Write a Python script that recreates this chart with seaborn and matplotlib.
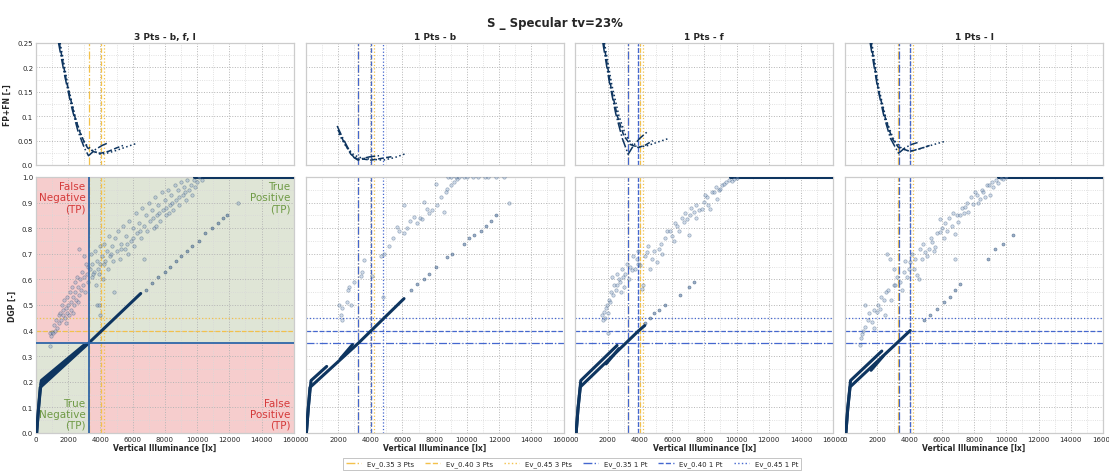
import numpy as np
import pandas as pd
import matplotlib.pyplot as plt
import seaborn as sns
from matplotlib.lines import Line2D
from matplotlib.ticker import MultipleLocator, FuncFormatter

PANEL_TITLES = ["3 Pts - b, f, l", "1 Pts - b", "1 Pts - f", "1 Pts - l"]
DGP_LEVELS = [0.35, 0.40, 0.45]
EV_3PTS = [3260, 4020, 4220]
EV_1PT_B = [3245, 4060, 4820]
EV_1PT_F = [3270, 3890, 3890]
EV_1PT_L = [3310, 4010, 4010]

# FP+FN curves (one per DGP level) for each panel
FPFN_EV_1 = [[1400, 1800, 2200, 2600, 3000, 3260, 3700, 4100, 4450],
             [1450, 1900, 2400, 2800, 3200, 3600, 4000, 4500, 5000, 5400],
             [1500, 2000, 2500, 3000, 3500, 4000, 4500, 5000, 5600, 6300]]
FPFN_1 = [[0.25, 0.18, 0.12, 0.07, 0.035, 0.019, 0.032, 0.04, 0.045],
          [0.25, 0.17, 0.10, 0.06, 0.035, 0.027, 0.024, 0.028, 0.035, 0.04],
          [0.25, 0.16, 0.09, 0.045, 0.03, 0.022, 0.025, 0.03, 0.037, 0.045]]
FPFN_EV_2 = [[1950, 2300, 2700, 3000, 3245, 3600, 4000, 4550],
             [2000, 2400, 2800, 3200, 3600, 4060, 4600, 5320],
             [2050, 2500, 3000, 3500, 4000, 4820, 5500, 6270]]
FPFN_2 = [[0.080, 0.055, 0.030, 0.015, 0.010, 0.014, 0.017, 0.019],
          [0.072, 0.045, 0.022, 0.012, 0.012, 0.010, 0.013, 0.017],
          [0.064, 0.038, 0.020, 0.014, 0.012, 0.010, 0.015, 0.024]]
FPFN_EV_3 = [[1700, 2100, 2500, 2900, 3270, 3600, 4000, 4490],
             [1750, 2200, 2600, 3000, 3400, 3890, 4300, 4800],
             [1800, 2250, 2700, 3100, 3500, 3890, 4500, 5200, 5840]]
FPFN_3 = [[0.25, 0.17, 0.105, 0.055, 0.022, 0.04, 0.055, 0.069],
          [0.25, 0.16, 0.10, 0.06, 0.042, 0.036, 0.04, 0.05],
          [0.25, 0.165, 0.10, 0.062, 0.043, 0.036, 0.04, 0.048, 0.055]]
FPFN_EV_4 = [[1550, 2000, 2400, 2800, 3310, 3700, 4100, 4490],
             [1600, 2050, 2500, 2900, 3300, 4010, 4500, 5240],
             [1650, 2100, 2550, 3000, 3500, 4010, 4700, 5500, 6250]]
FPFN_4 = [[0.25, 0.16, 0.10, 0.055, 0.024, 0.035, 0.042, 0.046],
          [0.25, 0.155, 0.095, 0.055, 0.036, 0.028, 0.032, 0.04],
          [0.25, 0.155, 0.092, 0.052, 0.034, 0.028, 0.034, 0.042, 0.049]]

# dense simplified-DGP strands (lower plots)
MAIN_EV_1, MAIN_DGP_1 = [40, 150, 260, 3250, 6500], [0.0, 0.09, 0.178, 0.35, 0.545]
UPPER_EV_1, UPPER_DGP_1 = [40, 160, 330, 2950], [0.0, 0.10, 0.205, 0.342]
MID_EV_1, MID_DGP_1 = [300, 3100], [0.19, 0.345]
MAIN_EV_2, MAIN_DGP_2 = [40, 150, 260, 3250, 6100], [0.0, 0.09, 0.178, 0.35, 0.525]
UPPER_EV_2, UPPER_DGP_2 = [40, 160, 330, 1300], [0.0, 0.10, 0.205, 0.26]
MID_EV_2, MID_DGP_2 = [2150, 2900], [0.29, 0.345]
MAIN_EV_3, MAIN_DGP_3 = [40, 150, 300, 3930, 4300], [0.0, 0.09, 0.18, 0.40, 0.42]
UPPER_EV_3, UPPER_DGP_3 = [40, 160, 330, 2580], [0.0, 0.10, 0.205, 0.342]
MID_EV_3, MID_DGP_3 = [1900, 2700], [0.27, 0.33]
MAIN_EV_4, MAIN_DGP_4 = [40, 150, 300, 4030], [0.0, 0.09, 0.18, 0.40]
UPPER_EV_4, UPPER_DGP_4 = [40, 160, 330, 2270], [0.0, 0.10, 0.205, 0.32]
MID_EV_4, MID_DGP_4 = [1600, 2350], [0.245, 0.30]
TOP_EV_1 = [9800, 16000]
TOP_EV_3 = [9600, 16000]
TOP_EV_4 = [9500, 16000]
TOP_DGP = [1.0, 1.0]

# scattered points
CLOUD_EV_1 = [870, 900, 950, 1000, 1050, 1100, 1200, 1250, 1300, 1400, 1450, 1500, 1550, 1600, 1650,
              1700, 1750, 1800, 1850, 1900, 1950, 2000, 2050, 2100, 2150, 2200, 2250, 2300, 2350, 2400,
              2450, 2500, 2550, 2600, 2650, 2700, 2750, 2800, 2850, 2900, 2950, 3000, 3050, 3100, 3150,
              3250, 3350, 3400, 3450, 3500, 3600, 3650, 3700, 3780, 3800, 3900, 3950, 4000, 4100, 4150,
              4200, 4300, 4400, 4500, 4550, 4600, 4700, 4800, 4850, 4900, 5000, 5100, 5200, 5300, 5400,
              5500, 5600, 5700, 5800, 5900, 6000, 6100, 6200, 6300, 6400, 6500, 6600, 6700, 6800, 6900,
              7000, 7100, 7200, 7300, 7400, 7500, 7600, 7700, 7800, 7900, 8000, 8100, 8200, 8300, 8400,
              8500, 8600, 8700, 8800, 8900, 9000, 9100, 9200, 9300, 9400, 9500, 9600, 9700, 9800, 9900,
              10000, 10100, 10300, 6680, 12550, 7250, 7650, 8050, 8450, 8850, 9250, 7450, 8250, 6450, 6050,
              5650, 5250, 4650, 4250, 3850, 3550, 3200, 2300, 2600, 1850, 3880, 3980]
CLOUD_DGP_1 = [0.34, 0.39, 0.38, 0.395, 0.39, 0.42, 0.40, 0.44, 0.41, 0.46, 0.43, 0.47, 0.44, 0.50, 0.46,
               0.48, 0.52, 0.45, 0.49, 0.47, 0.53, 0.50, 0.46, 0.55, 0.51, 0.48, 0.57, 0.53, 0.50, 0.59,
               0.55, 0.52, 0.61, 0.57, 0.54, 0.72, 0.60, 0.56, 0.63, 0.58, 0.69, 0.61, 0.55, 0.66, 0.62,
               0.59, 0.64, 0.70, 0.61, 0.66, 0.63, 0.71, 0.58, 0.50, 0.67, 0.62, 0.73, 0.66, 0.69, 0.60,
               0.74, 0.67, 0.71, 0.64, 0.77, 0.69, 0.73, 0.67, 0.55, 0.76, 0.71, 0.79, 0.68, 0.74, 0.81,
               0.72, 0.77, 0.70, 0.83, 0.75, 0.80, 0.73, 0.86, 0.78, 0.82, 0.76, 0.88, 0.81, 0.85, 0.79,
               0.90, 0.83, 0.87, 0.80, 0.92, 0.85, 0.89, 0.83, 0.94, 0.87, 0.91, 0.85, 0.95, 0.89, 0.93,
               0.87, 0.97, 0.91, 0.95, 0.89, 0.98, 0.93, 0.96, 0.91, 0.99, 0.95, 0.97, 0.93, 0.99, 0.96,
               0.98, 1.0, 0.99, 0.68, 0.90, 0.84, 0.86, 0.88, 0.90, 0.92, 0.94, 0.81, 0.86, 0.79, 0.76,
               0.74, 0.72, 0.70, 0.66, 0.64, 0.62, 0.65, 0.47, 0.51, 0.43, 0.50, 0.46]
EXT_EV_1 = [6800, 7200, 7600, 8000, 8300, 8700, 9000, 9400, 9700, 10100, 10500, 10900, 11300, 11600, 11870]
EXT_DGP_1 = [0.56, 0.585, 0.61, 0.63, 0.65, 0.67, 0.69, 0.71, 0.73, 0.75, 0.78, 0.80, 0.82, 0.84, 0.853]

CLOUD_EV_2 = [2070, 2170, 2270, 2220, 2580, 2690, 2790, 3000, 2600, 3410, 3510, 3620, 4130, 4650, 4860,
              4810, 5170, 5440, 5680, 5800, 6100, 6100, 6300, 6500, 6710, 6920, 7100, 7230, 7330, 7540,
              7650, 7850, 8160, 8060, 8570, 8400, 8780, 8990, 9200, 9400, 8700, 12600,
              8800, 9000, 9300, 9500, 9800, 10000, 10400, 10700, 11100, 11300, 11800, 12300]
CLOUD_DGP_2 = [0.50, 0.46, 0.49, 0.44, 0.51, 0.57, 0.50, 0.59, 0.56, 0.615, 0.63, 0.675, 0.615, 0.69, 0.70,
               0.53, 0.73, 0.76, 0.805, 0.79, 0.78, 0.89, 0.80, 0.83, 0.844, 0.82, 0.84, 0.837, 0.902, 0.876,
               0.86, 0.87, 0.89, 0.974, 0.863, 0.92, 0.954, 0.967, 0.98, 0.993, 0.94, 0.90,
               1.0, 1.0, 1.0, 1.0, 1.0, 1.0, 1.0, 1.0, 1.0, 1.0, 1.0, 1.0]
EXT_EV_2 = [6510, 6920, 7330, 7640, 8100, 8780, 9090, 9810, 10120, 10430, 10850, 11160, 11470, 11780]
EXT_DGP_2 = [0.557, 0.583, 0.603, 0.622, 0.65, 0.687, 0.70, 0.74, 0.76, 0.772, 0.79, 0.81, 0.83, 0.85]

CLOUD_EV_3 = [1650, 1700, 1760, 1850, 1900, 1960, 2000, 2100, 2170, 2200, 2270, 2350, 2400, 2500, 2580,
              2600, 2700, 2790, 2850, 2890, 2950, 3000, 3100, 3200, 3300, 3400, 3510, 3600, 3720, 3820,
              3850, 3900, 4030, 4130, 4200, 4300, 4440, 4500, 4650, 4750, 4850, 5060, 5170, 5300, 5400,
              5580, 5700, 5890, 6000, 6100, 6200, 6300, 6450, 6600, 6710, 6800, 6920, 7020, 7100, 7200,
              7330, 7450, 7500, 7650, 7850, 7950, 8050, 8160, 8250, 8370, 8450, 8570, 8700, 8780, 8900,
              8990, 9100, 9200, 9350, 9500, 9700, 9810, 10000, 2000]
CLOUD_DGP_3 = [0.46, 0.44, 0.473, 0.45, 0.49, 0.50, 0.47, 0.52, 0.51, 0.55, 0.61, 0.54, 0.58, 0.56, 0.577,
               0.62, 0.60, 0.59, 0.55, 0.64, 0.61, 0.57, 0.62, 0.66, 0.60, 0.65, 0.635, 0.69, 0.64, 0.68,
               0.71, 0.66, 0.655, 0.564, 0.58, 0.69, 0.707, 0.73, 0.64, 0.68, 0.71, 0.668, 0.72, 0.74, 0.70,
               0.76, 0.79, 0.79, 0.77, 0.75, 0.82, 0.81, 0.79, 0.84, 0.824, 0.86, 0.837, 0.772, 0.85, 0.88,
               0.863, 0.84, 0.89, 0.87, 0.876, 0.902, 0.93, 0.92, 0.89, 0.876, 0.94, 0.94, 0.96, 0.915, 0.95,
               0.954, 0.97, 0.974, 0.98, 0.99, 0.985, 0.993, 0.995, 0.39]
EXT_EV_3 = [4300, 4600, 4900, 5200, 5580, 6510, 7020, 7330]
EXT_DGP_3 = [0.43, 0.45, 0.47, 0.48, 0.50, 0.54, 0.57, 0.59]

CLOUD_EV_4 = [930, 950, 1030, 1100, 1240, 1240, 1400, 1500, 1650, 1760, 1800, 1960, 2050, 2170, 2250,
              2380, 2480, 2500, 2580, 2650, 2790, 2850, 3000, 3050, 3100, 3200, 3410, 3500, 3620, 3700,
              3820, 3950, 4030, 4150, 4240, 4350, 4440, 4550, 4650, 4750, 4850, 4960, 5050, 5170, 5300,
              5370, 5480, 5580, 5700, 5890, 5890, 6000, 6100, 6200, 6300, 6450, 6610, 6700, 6820, 6820,
              6950, 7020, 7130, 7250, 7350, 7440, 7550, 7640, 7800, 7950, 8050, 8160, 8250, 8370, 8500,
              8570, 8700, 8780, 8900, 8990, 9100, 9200, 9350, 9500, 9650, 9810, 10000]
CLOUD_DGP_4 = [0.342, 0.37, 0.388, 0.40, 0.414, 0.50, 0.44, 0.47, 0.434, 0.41, 0.48, 0.473, 0.50, 0.486, 0.53,
               0.518, 0.46, 0.55, 0.70, 0.56, 0.68, 0.52, 0.64, 0.58, 0.577, 0.61, 0.59, 0.56, 0.63, 0.67,
               0.61, 0.64, 0.668, 0.70, 0.64, 0.68, 0.616, 0.603, 0.72, 0.68, 0.74, 0.707, 0.69, 0.72, 0.76,
               0.746, 0.71, 0.727, 0.78, 0.837, 0.785, 0.80, 0.76, 0.82, 0.79, 0.84, 0.81, 0.86, 0.778, 0.68,
               0.85, 0.824, 0.85, 0.88, 0.86, 0.883, 0.90, 0.863, 0.92, 0.896, 0.94, 0.928, 0.90, 0.915, 0.95,
               0.94, 0.92, 0.967, 0.97, 0.928, 0.98, 0.96, 0.99, 0.975, 0.995, 0.993, 1.0]
EXT_EV_4 = [4860, 5270, 5680, 6100, 6510, 6820, 7130, 8880, 9300, 9810, 10430]
EXT_DGP_4 = [0.44, 0.46, 0.486, 0.51, 0.53, 0.557, 0.583, 0.68, 0.72, 0.74, 0.772]

NAVY = "#0e3560"
YELLOW = "#f3c14b"
BLUE = "#4467cf"
QBLUE = "#2f66a8"
PINK = "#f6cdcd"
GREEN = "#dfe5d6"
RED_TXT = "#d43a3a"
GREEN_TXT = "#6f9a45"
STYLES = ["-.", "--", ":"]
LEG_LABELS_3 = ["Ev_0.35 3 Pts", "Ev_0.40 3 Pts", "Ev_0.45 3 Pts"]
LEG_LABELS_1 = ["Ev_0.35 1 Pt", "Ev_0.40 1 Pt", "Ev_0.45 1 Pt"]

panels = [
    dict(fpfn_ev=FPFN_EV_1, fpfn=FPFN_1, ev1=None,
         strands=[(MAIN_EV_1, MAIN_DGP_1), (UPPER_EV_1, UPPER_DGP_1), (MID_EV_1, MID_DGP_1), (TOP_EV_1, TOP_DGP)],
         cloud=(CLOUD_EV_1, CLOUD_DGP_1), ext=(EXT_EV_1, EXT_DGP_1)),
    dict(fpfn_ev=FPFN_EV_2, fpfn=FPFN_2, ev1=EV_1PT_B,
         strands=[(MAIN_EV_2, MAIN_DGP_2), (UPPER_EV_2, UPPER_DGP_2), (MID_EV_2, MID_DGP_2)],
         cloud=(CLOUD_EV_2, CLOUD_DGP_2), ext=(EXT_EV_2, EXT_DGP_2)),
    dict(fpfn_ev=FPFN_EV_3, fpfn=FPFN_3, ev1=EV_1PT_F,
         strands=[(MAIN_EV_3, MAIN_DGP_3), (UPPER_EV_3, UPPER_DGP_3), (MID_EV_3, MID_DGP_3), (TOP_EV_3, TOP_DGP)],
         cloud=(CLOUD_EV_3, CLOUD_DGP_3), ext=(EXT_EV_3, EXT_DGP_3)),
    dict(fpfn_ev=FPFN_EV_4, fpfn=FPFN_4, ev1=EV_1PT_L,
         strands=[(MAIN_EV_4, MAIN_DGP_4), (UPPER_EV_4, UPPER_DGP_4), (MID_EV_4, MID_DGP_4), (TOP_EV_4, TOP_DGP)],
         cloud=(CLOUD_EV_4, CLOUD_DGP_4), ext=(EXT_EV_4, EXT_DGP_4)),
]

sns.set_style("whitegrid")
plt.rcParams["font.family"] = ["DejaVu Sans"]

W, H = 1109, 477
fig, axes = plt.subplots(2, 4, figsize=(W / 100, H / 100), dpi=100,
                         gridspec_kw={"height_ratios": [122, 256]})
fig.subplots_adjust(left=36 / W, right=1103 / W, top=1 - 44 / H, bottom=1 - 434 / H,
                    wspace=12 / 258, hspace=12 / 189)


def style_axis(ax, ymax, ymaj, ymin):
    ax.set_xlim(0, 16000)
    ax.set_ylim(0, ymax)
    ax.xaxis.set_major_locator(MultipleLocator(2000))
    ax.xaxis.set_minor_locator(MultipleLocator(1000))
    ax.yaxis.set_major_locator(MultipleLocator(ymaj))
    ax.yaxis.set_minor_locator(MultipleLocator(ymin))
    ax.grid(which="major", ls=":", color="#b5b5b5", lw=0.7)
    ax.grid(which="minor", ls=":", color="#d8d8d8", lw=0.6)
    ax.tick_params(which="both", length=0, labelsize=5, pad=2)
    for sp in ax.spines.values():
        sp.set_color("#cccccc")
        sp.set_linewidth(0.9)
    ax.set_xlabel("")
    ax.set_ylabel("")


for i, p in enumerate(panels):
    ax_t, ax_b = axes[0, i], axes[1, i]
    style_axis(ax_t, 0.25, 0.05, 0.025)
    style_axis(ax_b, 1.0, 0.1, 0.05)
    ax_t.set_title(PANEL_TITLES[i], fontsize=6.5, fontweight="bold", pad=3)

    # top: FP+FN curves
    for k in range(3):
        sns.lineplot(x=p["fpfn_ev"][k], y=p["fpfn"][k], ax=ax_t, sort=False, estimator=None,
                     color=NAVY, lw=1.1, linestyle=STYLES[k], legend=False, zorder=3)

    # threshold lines
    for ax in (ax_t, ax_b):
        for k in range(3):
            ax.axvline(EV_3PTS[k], color=YELLOW, ls=STYLES[k], lw=0.9, zorder=2)
            if p["ev1"] is not None:
                ax.axvline(p["ev1"][k], color=BLUE, ls=STYLES[k], lw=0.9, zorder=2)

    if i == 0:
        x0, y0 = EV_3PTS[0], DGP_LEVELS[0]
        ax_b.fill_between([0, x0], y0, 1.0, color=PINK, zorder=0, lw=0)
        ax_b.fill_between([x0, 16000], y0, 1.0, color=GREEN, zorder=0, lw=0)
        ax_b.fill_between([0, x0], 0, y0, color=GREEN, zorder=0, lw=0)
        ax_b.fill_between([x0, 16000], 0, y0, color=PINK, zorder=0, lw=0)
        for k in range(1, 3):
            ax_b.axhline(DGP_LEVELS[k], color=YELLOW, ls=STYLES[k], lw=0.9, zorder=2)
        ax_b.axvline(x0, color=QBLUE, lw=1.3, zorder=4)
        ax_b.axhline(y0, color=QBLUE, lw=1.3, zorder=4)
        kw = dict(fontsize=7.5, ha="right", linespacing=1.15, zorder=6)
        ax_b.text(x0 - 200, 0.985, "False\nNegative\n(TP)", va="top", color=RED_TXT, **kw)
        ax_b.text(15800, 0.985, "True\nPositive\n(TP)", va="top", color=GREEN_TXT, **kw)
        ax_b.text(x0 - 200, 0.012, "True\nNegative\n(TP)", va="bottom", color=GREEN_TXT, **kw)
        ax_b.text(15800, 0.012, "False\nPositive\n(TP)", va="bottom", color=RED_TXT, **kw)
    else:
        for k in range(3):
            ax_b.axhline(DGP_LEVELS[k], color=BLUE, ls=STYLES[k], lw=0.9, zorder=2)

    # bottom: DGP data
    for ev, dgp in p["strands"]:
        sns.lineplot(x=ev, y=dgp, ax=ax_b, sort=False, estimator=None,
                     color=NAVY, lw=2.2, legend=False, zorder=3)
    sns.scatterplot(x=p["ext"][0], y=p["ext"][1], ax=ax_b, s=5, color="#4f6f99",
                    edgecolor=NAVY, linewidth=0.4, alpha=0.55, legend=False, zorder=3)
    sns.scatterplot(x=p["cloud"][0], y=p["cloud"][1], ax=ax_b, s=6, color="#8aa6c8",
                    edgecolor="#1d3f68", linewidth=0.45, alpha=0.4, legend=False, zorder=3)

    ax_t.set_xticklabels([])
    ax_b.set_xlabel("Vertical Illuminance [lx]", fontsize=5.5, fontweight="bold", labelpad=1)
    if i == 0:
        ax_t.yaxis.set_major_formatter(FuncFormatter(lambda v, _: "0.0" if v == 0 else f"{v:g}"))
        ax_t.set_ylabel("FP+FN [-]", fontsize=5.5, fontweight="bold", labelpad=4)
        ax_b.set_ylabel("DGP [-]", fontsize=5.5, fontweight="bold", labelpad=4)
    else:
        ax_t.set_yticklabels([])
        ax_b.set_yticklabels([])

fig.suptitle("S _ Specular tv=23%", y=1 - 17 / H, fontsize=8.5, fontweight="bold")

handles = [Line2D([0], [0], color=YELLOW, ls=s, lw=1) for s in STYLES] + \
          [Line2D([0], [0], color=BLUE, ls=s, lw=1) for s in STYLES]
leg = fig.legend(handles, LEG_LABELS_3 + LEG_LABELS_1, loc="center", bbox_to_anchor=(572 / W, 1 - 465 / H),
                 ncol=6, fontsize=5, frameon=True, fancybox=False, handlelength=2.2, columnspacing=1.6,
                 borderpad=0.4)
leg.get_frame().set_edgecolor("#aaaaaa")
leg.get_frame().set_linewidth(0.6)

plt.savefig("out.png", dpi=100)
